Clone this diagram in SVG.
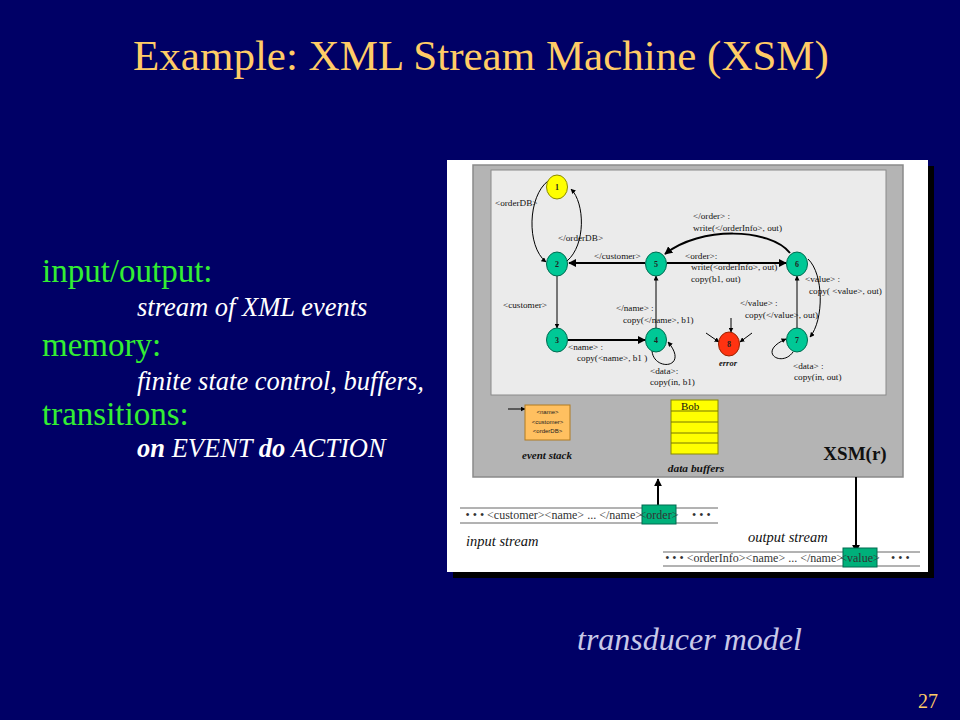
<svg xmlns="http://www.w3.org/2000/svg" width="960" height="720" viewBox="0 0 960 720">
<defs>
<marker id="ah" viewBox="0 0 10 10" refX="9" refY="5" markerWidth="5" markerHeight="5" orient="auto" markerUnits="userSpaceOnUse">
<path d="M0,0 L10,5 L0,10 z" fill="#000"/>
</marker>
<marker id="ahb" viewBox="0 0 10 10" refX="9" refY="5" markerWidth="8" markerHeight="8" orient="auto" markerUnits="userSpaceOnUse">
<path d="M0,0 L10,5 L0,10 z" fill="#000"/>
</marker>
<style>
.lbl{font-family:"Liberation Serif","Times New Roman",serif;font-size:9.2px;fill:#111}
.st{fill:#00C896;stroke:#006a50;stroke-width:1}
.nt{font-family:"Liberation Serif",serif;font-size:8px;font-weight:bold;fill:#222;text-anchor:middle}
.e{fill:none;stroke:#000;stroke-width:1;marker-end:url(#ah)}
.et{fill:none;stroke:#000;stroke-width:2;marker-end:url(#ahb)}
.green{font-family:"Liberation Serif",serif;font-size:33px;fill:#33EE33}
.white{font-family:"Liberation Serif",serif;font-size:26.5px;font-style:italic;fill:#fff}
.cap{font-family:"Liberation Serif",serif;font-style:italic;font-weight:bold;fill:#111}
.stream{font-family:"Liberation Serif",serif;font-size:12px;fill:#333}
</style>
</defs>
<rect width="960" height="720" fill="#000066"/>
<text x="481" y="70" text-anchor="middle" font-family="Liberation Serif,serif" font-size="43" fill="#FFCC66">Example: XML Stream Machine (XSM)</text>

<g id="left-text">
<text class="green" x="42" y="282">input/output:</text>
<text class="white" x="137" y="316">stream of XML events</text>
<text class="green" x="42" y="356">memory:</text>
<text class="white" x="137" y="390">finite state control, buffers,</text>
<text class="green" x="42" y="425">transitions:</text>
<text class="white" x="137" y="457"><tspan font-weight="bold">on</tspan> EVENT <tspan font-weight="bold">do</tspan> ACTION</text>
</g>

<g id="panel">
<rect x="453" y="166" width="481" height="412" fill="#000"/>
<rect x="447" y="160" width="481" height="412" fill="#fff"/>
<rect x="473" y="165" width="430" height="312" fill="#B4B4B4" stroke="#8a8a8a" stroke-width="1.5"/>
<rect x="491" y="170" width="395" height="225" fill="#EBEBEB" stroke="#8a8a8a" stroke-width="1"/>
</g>

<g id="connectors">
<path class="e" d="M548,181 C528,196 526,246 546,262"/>
<path class="e" d="M567,261 C586,245 585,203 571,189"/>
<path class="et" d="M645,263 L569,263"/>
<path class="e" d="M557,276 L557,328"/>
<path class="et" d="M568,340 L645,340"/>
<path class="e" d="M656,328 L656,276"/>
<path class="e" d="M652,351 C654,372 690,368 668,342"/>
<path class="et" d="M667,263 L786,263"/>
<path class="et" d="M790,253 C770,228 700,226 665,254" stroke-width="1.5"/>
<path class="e" d="M808,259 C824,274 824,320 810,337" stroke-width="1.2"/>
<path class="e" d="M797,328 L797,276"/>
<path class="e" d="M793,352 C782,368 756,352 786,339"/>
<path class="e" d="M731,318 L731,332"/>
<path class="e" d="M706,333 L719,342"/>
<path class="e" d="M752,333 L740,342"/>
<path class="e" d="M508,409 L525,409"/>
<path class="et" d="M658,508 L658,479"/>
<path class="et" d="M856,477 L856,552"/>
</g>

<g id="n1"><ellipse cx="557" cy="187" rx="10.5" ry="12" fill="#FFFF00" stroke="#8a8a00"/><text class="nt" x="557" y="190">1</text></g>
<g id="n2"><ellipse class="st" cx="557" cy="264" rx="10.5" ry="12"/><text class="nt" x="557" y="267">2</text></g>
<g id="n5"><ellipse class="st" cx="656" cy="264" rx="10.5" ry="12"/><text class="nt" x="656" y="267">5</text></g>
<g id="n6"><ellipse class="st" cx="797" cy="264" rx="10.5" ry="12"/><text class="nt" x="797" y="267">6</text></g>
<g id="n3"><ellipse class="st" cx="557" cy="340" rx="10.5" ry="12"/><text class="nt" x="557" y="343">3</text></g>
<g id="n4"><ellipse class="st" cx="656" cy="340" rx="10.5" ry="12"/><text class="nt" x="656" y="343">4</text></g>
<g id="n7"><ellipse class="st" cx="797" cy="340" rx="10.5" ry="12"/><text class="nt" x="797" y="343">7</text></g>
<g id="n8"><ellipse cx="729" cy="344" rx="10.5" ry="12" fill="#FF3311" stroke="#992200"/><text class="nt" x="729" y="347">8</text>
<text class="cap" x="728" y="366" font-size="8.5" text-anchor="middle">error</text></g>

<g id="labels">
<text class="lbl" x="495" y="206">&lt;orderDB&gt;</text>
<text class="lbl" x="558" y="241">&lt;/orderDB&gt;</text>
<text class="lbl" x="594" y="259">&lt;/customer&gt;</text>
<text class="lbl" x="685" y="259">&lt;order&gt;:</text>
<text class="lbl" x="691" y="270">write(&lt;orderInfo&gt;, out)</text>
<text class="lbl" x="691" y="282">copy(b1, out)</text>
<text class="lbl" x="693" y="219">&lt;/order&gt; :</text>
<text class="lbl" x="693" y="231">write(&lt;/orderInfo&gt;, out)</text>
<text class="lbl" x="805" y="282">&lt;value&gt; :</text>
<text class="lbl" x="809" y="294">copy( &lt;value&gt;, out)</text>
<text class="lbl" x="740" y="306">&lt;/value&gt; :</text>
<text class="lbl" x="745" y="318">copy(&lt;/value&gt;, out)</text>
<text class="lbl" x="503" y="308">&lt;customer&gt;</text>
<text class="lbl" x="616" y="311">&lt;/name&gt; :</text>
<text class="lbl" x="623" y="323">copy(&lt;/name&gt;, b1)</text>
<text class="lbl" x="568" y="350">&lt;name&gt; :</text>
<text class="lbl" x="577" y="361">copy(&lt;name&gt;, b1 )</text>
<text class="lbl" x="650" y="374">&lt;data&gt;:</text>
<text class="lbl" x="650" y="385">copy(in, b1)</text>
<text class="lbl" x="793" y="369">&lt;data&gt; :</text>
<text class="lbl" x="794" y="380">copy(in, out)</text>
</g>

<g id="event-stack">
<rect x="525" y="405" width="45" height="35" fill="#FFC060" stroke="#b07a20" stroke-width="1"/>
<text x="547.5" y="414" text-anchor="middle" font-family="Liberation Sans,Arial,sans-serif" font-size="6" fill="#222">&lt;name&gt;</text>
<text x="547.5" y="424" text-anchor="middle" font-family="Liberation Sans,Arial,sans-serif" font-size="6" fill="#222">&lt;customer&gt;</text>
<text x="547.5" y="433" text-anchor="middle" font-family="Liberation Sans,Arial,sans-serif" font-size="6" fill="#222">&lt;orderDB&gt;</text>
<text class="cap" x="547" y="459" font-size="11" text-anchor="middle">event stack</text>
</g>

<g id="data-buffers">
<rect x="671" y="400" width="47" height="54" fill="#FFFF00" stroke="#888800" stroke-width="1"/>
<path d="M671,411 H718 M671,422 H718 M671,433 H718 M671,443 H718" stroke="#777700" stroke-width="1"/>
<text x="681" y="410" font-family="Liberation Serif,serif" font-size="11" fill="#111">Bob</text>
<text class="cap" x="696" y="472" font-size="11.4" text-anchor="middle">data buffers</text>
</g>

<text x="855" y="460" text-anchor="middle" font-family="Liberation Serif,serif" font-size="19" font-weight="bold" fill="#111">XSM(r)</text>

<g id="input-stream">
<path d="M460,508 H718 M460,523 H718" stroke="#666" stroke-width="1"/>
<rect x="642" y="505" width="34" height="19" fill="#00B07A" stroke="#006a50"/>
<text class="stream" x="642" y="519" text-anchor="end">• • • &lt;customer&gt;&lt;name&gt; ... &lt;/name&gt;</text>
<text class="stream" x="659" y="519" text-anchor="middle">&lt;order&gt;</text>
<text class="stream" x="692" y="519">• • •</text>
<text x="466" y="546" font-family="Liberation Serif,serif" font-size="14.5" font-style="italic" fill="#111">input stream</text>
</g>

<g id="output-stream">
<path d="M663,552 H920 M663,566 H920" stroke="#666" stroke-width="1"/>
<rect x="843" y="548" width="34" height="19" fill="#00B07A" stroke="#006a50"/>
<text class="stream" x="843" y="562" text-anchor="end">• • • &lt;orderInfo&gt;&lt;name&gt; ... &lt;/name&gt;</text>
<text class="stream" x="860" y="562" text-anchor="middle">&lt;value&gt;</text>
<text class="stream" x="891" y="562">• • •</text>
<text x="748" y="542" font-family="Liberation Serif,serif" font-size="14.5" font-style="italic" fill="#111">output stream</text>
</g>

<text x="577" y="650" font-family="Liberation Serif,serif" font-size="32" font-style="italic" fill="#C8C8E8">transducer model</text>
<text x="918" y="708" font-family="Liberation Serif,serif" font-size="20" fill="#FFCC66">27</text>
</svg>
